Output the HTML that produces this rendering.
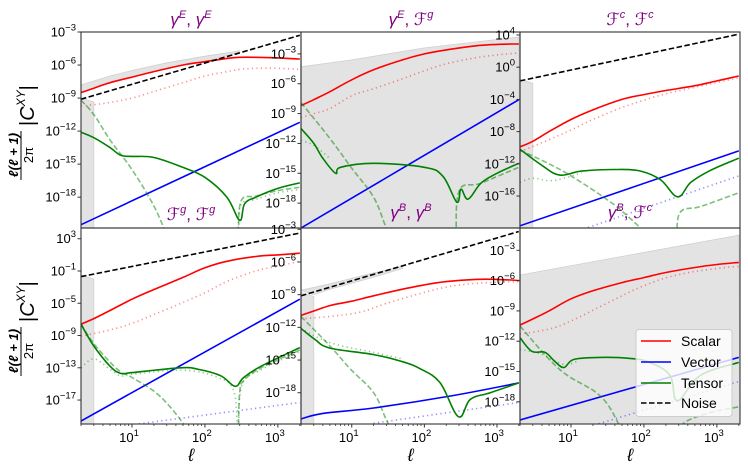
<!DOCTYPE html>
<html><head><meta charset="utf-8">
<style>
html,body{margin:0;padding:0;background:#fff;}
svg{display:block;font-family:"Liberation Sans","DejaVu Sans",sans-serif;}
</style></head>
<body>
<svg id="fig" width="748" height="476" viewBox="0 0 748 476" xmlns="http://www.w3.org/2000/svg">
  <g id="fills"></g>
  <g id="lines"></g>
  <g id="frames"></g>
  <g id="labels"></g>
  <g id="titles" fill="#800080" font-size="17">
    <text x="191" y="25" text-anchor="middle"><tspan font-style="italic">γ</tspan><tspan dy="-7" font-size="11" font-style="italic">E</tspan><tspan dy="7">, </tspan><tspan font-style="italic">γ</tspan><tspan dy="-7" font-size="11" font-style="italic">E</tspan></text>
    <text x="411" y="25" text-anchor="middle"><tspan font-style="italic">γ</tspan><tspan dy="-7" font-size="11" font-style="italic">E</tspan><tspan dy="7">, ℱ</tspan><tspan dy="-7" font-size="11" font-style="italic">g</tspan></text>
    <text x="630" y="25" text-anchor="middle">ℱ<tspan dy="-7" font-size="11" font-style="italic">c</tspan><tspan dy="7">, ℱ</tspan><tspan dy="-7" font-size="11" font-style="italic">c</tspan></text>
    <text x="191" y="220" text-anchor="middle">ℱ<tspan dy="-7" font-size="11" font-style="italic">g</tspan><tspan dy="7">, ℱ</tspan><tspan dy="-7" font-size="11" font-style="italic">g</tspan></text>
    <text x="411" y="218" text-anchor="middle"><tspan font-style="italic">γ</tspan><tspan dy="-7" font-size="11" font-style="italic">B</tspan><tspan dy="7">, </tspan><tspan font-style="italic">γ</tspan><tspan dy="-7" font-size="11" font-style="italic">B</tspan></text>
    <text x="630" y="218" text-anchor="middle"><tspan font-style="italic">γ</tspan><tspan dy="-7" font-size="11" font-style="italic">B</tspan><tspan dy="7">, ℱ</tspan><tspan dy="-7" font-size="11" font-style="italic">c</tspan></text>
  </g>
  <g transform="translate(21,130) rotate(-90)" fill="#000">
    <text x="-25" y="-3" font-size="13" font-style="italic" font-weight="bold" text-anchor="middle">ℓ(ℓ + 1)</text>
    <line x1="-50" y1="0" x2="-1" y2="0" stroke="#000" stroke-width="1"/>
    <text x="-25" y="12" font-size="13" text-anchor="middle">2π</text>
    <text x="4" y="13" font-size="20">|<tspan font-style="italic">C</tspan><tspan dy="-9" font-size="12" font-style="italic">XY</tspan><tspan dy="9">|</tspan></text>
  </g>
  <g transform="translate(21,326) rotate(-90)" fill="#000">
    <text x="-25" y="-3" font-size="13" font-style="italic" font-weight="bold" text-anchor="middle">ℓ(ℓ + 1)</text>
    <line x1="-50" y1="0" x2="-1" y2="0" stroke="#000" stroke-width="1"/>
    <text x="-25" y="12" font-size="13" text-anchor="middle">2π</text>
    <text x="4" y="13" font-size="20">|<tspan font-style="italic">C</tspan><tspan dy="-9" font-size="12" font-style="italic">XY</tspan><tspan dy="9">|</tspan></text>
  </g>
  <g>
    <rect x="636" y="329.5" width="96" height="87" rx="3" fill="#fff" fill-opacity="0.8" stroke="#ccc"/>
    <line x1="641" y1="341" x2="671" y2="341" stroke="#ff0000" stroke-width="1.5"/>
    <text x="681" y="346" font-size="14">Scalar</text>
    <line x1="641" y1="362" x2="671" y2="362" stroke="#0000ff" stroke-width="1.5"/>
    <text x="681" y="367" font-size="14">Vector</text>
    <line x1="641" y1="383" x2="671" y2="383" stroke="#008000" stroke-width="1.5"/>
    <text x="681" y="388" font-size="14">Tensor</text>
    <line x1="641" y1="403" x2="671" y2="403" stroke="#000" stroke-width="1.5" stroke-dasharray="5.5 2.5"/>
    <text x="681" y="408" font-size="14">Noise</text>
  </g>
</svg>
<script>
// ---- data: [ell, log10 value] pairs ----
const p1Scalar=[[2,-8.5],[3,-8.1],[5,-7.6],[10,-7.1],[20,-6.6],[50,-6.0],[100,-5.7],[200,-5.4],[300,-5.3],[500,-5.3],[1000,-5.35],[2000,-5.45]];
const p1ScalarDot=[[2,-9.7],[3,-9.6],[5,-9.4],[10,-9.0],[20,-8.4],[50,-7.6],[100,-7.0],[200,-6.6],[300,-6.4],[500,-6.3],[1000,-6.3],[2000,-6.4]];
const p1Vector=[[2,-20.5],[2000,-11.2]];
const p1Tensor=[[2,-12.1],[3,-12.6],[5,-13.5],[7,-14.2],[10,-14.3],[20,-14.4],[50,-15.3],[100,-16.2],[200,-18.0],[300,-20.1],[350,-18.6],[500,-18.0],[1000,-17.2],[2000,-16.7]];
const p1TensorDash=[[2,-9.2],[3,-10.5],[5,-12.8],[10,-15.5],[20,-18.8],[30,-21.5]];
const p1TensorDash2=[[290,-22],[310,-18.4],[500,-17.9],[1000,-17.4],[2000,-17.1]];
const p1TensorDot=[[290,-22],[305,-18.8],[500,-18.2],[1000,-17.6],[2000,-17.3]];
const p1Noise=[[2,-9.1],[2000,-3.3]];
const p1Band=[[2,-7.8],[5,-7.0],[10,-6.5],[30,-5.8],[100,-5.2],[250,-4.8],[300,-4.7],[300,-4.9],[250,-5.0],[100,-5.7],[30,-6.3],[10,-7.1],[5,-7.6],[2,-8.5]];

const p2Scalar=[[2,-8.2],[3,-7.6],[5,-6.8],[10,-5.6],[20,-4.6],[50,-3.6],[100,-3.0],[200,-2.6],[500,-2.2],[1000,-2.05],[2000,-2.0]];
const p2ScalarDot=[[2,-9.4],[3,-9.0],[5,-8.5],[10,-7.2],[20,-6.5],[50,-5.5],[100,-4.7],[200,-4.0],[500,-3.4],[1000,-3.1],[2000,-2.9]];
const p2Vector=[[2,-20.5],[2000,-7.6]];
const p2Tensor=[[2,-10.5],[3,-12.0],[4,-13.5],[6,-15.0],[7,-14.4],[20,-14.0],[100,-14.4],[180,-15.3],[280,-17.9],[320,-16.6],[400,-17.6],[600,-16.0],[1000,-15.0],[2000,-14.0]];
const p2TensorDash=[[2,-7.9],[5,-11.5],[10,-14.5],[20,-17.4],[30,-20.5],[40,-22]];
const p2TensorDash2=[[275,-22],[300,-16.8],[600,-16.0],[2000,-14.4]];
const p2TensorDot=[[2,-11.7],[3,-12.2],[5,-13.5]];
const p2Fill=[[2,-4.3],[10,-3.6],[100,-2.4],[2000,-1.3]];

const p3Noise=[[2,-1.7],[2000,4.1]];
const p3Scalar=[[2,-9.9],[3,-9.2],[5,-8.0],[10,-6.5],[20,-5.3],[50,-4.0],[100,-3.4],[200,-2.9],[500,-2.3],[1000,-1.7],[2000,-1.1]];
const p3ScalarDot=[[2,-10.5],[5,-9.0],[10,-7.8],[20,-6.5],[50,-5.0],[100,-4.1],[200,-3.3],[500,-2.5],[1000,-1.9],[2000,-1.3]];
const p3Vector=[[2,-19.7],[2000,-10.4]];
const p3VectorDot=[[2,-22.8],[2000,-13.5]];
const p3Tensor=[[2,-10.2],[4,-12.2],[7,-13.4],[14,-12.9],[40,-12.7],[90,-12.9],[170,-14.0],[290,-16.1],[440,-14.3],[820,-12.8],[2000,-11.3]];
const p3TensorDot=[[2,-14.3],[3,-13.8],[5,-14.1],[8,-13.8],[14,-13.1]];
const p3TensorDash=[[2,-10.3],[5,-12.0],[10,-13.5],[32,-16.5],[60,-18.5],[100,-20.5],[120,-22]];
const p3TensorDash2=[[285,-22],[310,-18.1],[600,-17.3],[2000,-15.6]];

const p4Noise=[[2,-1.7],[2000,3.7]];
const p4Scalar=[[2,-7.6],[3,-6.9],[5,-5.9],[10,-4.5],[20,-3.3],[50,-1.8],[100,-0.6],[200,0.2],[500,0.8],[1000,1.0],[2000,1.2]];
const p4ScalarDot=[[2,-9.1],[5,-8.3],[10,-7.5],[20,-6.4],[50,-4.9],[100,-3.7],[200,-2.3],[500,-1.0],[1000,-0.4],[2000,0.2]];
const p4Vector=[[2,-19.6],[2000,-4.5]];
const p4VectorDot=[[2,-20.9],[2000,-17.3]];
const p4Tensor=[[2,-7.6],[3,-10.3],[5,-12.8],[7,-13.7],[10,-13.6],[46,-13.0],[82,-13.2],[165,-14.0],[260,-15.3],[340,-14.2],[590,-12.8],[2000,-10.5]];
const p4TensorDot=[[2,-13.0],[3,-11.9],[5,-13.2],[7,-14.0],[10,-13.8],[50,-13.3],[150,-14.2],[250,-16],[280,-22]];
const p4TensorDot2=[[290,-22],[320,-15.2],[600,-13.2],[2000,-11.0]];
const p4TensorDash=[[2,-7.6],[3,-10.0],[5,-12.3],[7,-13.5],[10,-14.2],[24,-16.5],[54,-20.3],[60,-22]];
const p4TensorDash2=[[285,-22],[300,-16.0],[350,-14.5],[590,-13.0],[2000,-10.8]];

const p5Noise=[[2,-9.1],[2000,-3.2]];
const p5Band=[[2,-8.6],[5,-8.0],[20,-7.0],[50,-6.4],[50,-6.6],[20,-7.4],[5,-8.5],[3,-9.0]];
const p5Scalar=[[2,-10.9],[3,-10.5],[5,-10.0],[10,-9.6],[20,-9.1],[50,-8.5],[100,-8.1],[200,-7.8],[500,-7.6],[1000,-7.6],[2000,-7.7]];
const p5ScalarDot=[[2,-11.2],[5,-11.0],[13,-10.6],[30,-9.8],[87,-8.9],[200,-8.3],[430,-8.0],[1000,-7.85],[2000,-7.8]];
const p5Vector=[[2,-20.4],[4,-19.9],[20,-19.4],[230,-18.3],[2000,-17.1]];
const p5VectorDot=[[20,-20.8],[2000,-18.9]];
const p5Tensor=[[2,-12.1],[3.1,-13.1],[5,-13.9],[20,-14.5],[47,-15.1],[88,-15.8],[165,-17.1],[295,-20.2],[430,-18.6],[810,-18.0],[2000,-17.1]];
const p5TensorDash=[[2,-11.0],[5,-13.7],[9.5,-15.8],[20,-18.0],[30,-20.5],[40,-22]];
const p5TensorDot=[[2,-12.1],[5,-13.4],[20,-14.3],[50,-14.9]];

const p6Fill=[[2,-5.44],[2000,-1.5]];
const p6Scalar=[[2,-10.4],[3,-9.8],[5,-9.0],[10,-7.8],[20,-7.0],[50,-6.2],[100,-5.7],[200,-5.2],[500,-4.7],[1000,-4.4],[2000,-4.2]];
const p6ScalarDot=[[2,-11.3],[5,-10.8],[10,-10.0],[30,-8.3],[100,-6.5],[300,-5.4],[1000,-4.8],[2000,-4.6]];
const p6Vector=[[2,-19.8],[2000,-13.6]];
const p6VectorDot=[[21,-20.3],[2000,-16.0]];
const p6Tensor=[[2,-11.65],[2.9,-13.0],[4.4,-13.1],[6,-14.0],[8,-14.6],[11,-13.8],[25,-13.6],[64,-13.7],[120,-14.1],[228,-15.4],[288,-17.9],[590,-15.4],[2000,-14.1]];
const p6TensorDash=[[2,-10.5],[7,-14.8],[25,-17.4],[46,-20.3],[60,-22]];
const p6TensorDash2=[[320,-22],[330,-20.3],[700,-19.2],[2000,-18.5]];
const p6TensorDot=[[2,-12.8],[4,-13.3],[8,-14.3],[12,-14.0]];

const p1Ticks=[-3,-6,-9,-12,-15,-18];
const p2Ticks=[-3,-6,-9,-12,-15,-18];
const p3Ticks=[4,0,-4,-8,-12,-16];
const p4Ticks=[3,-1,-5,-9,-13,-17];
const p5Ticks=[-3,-6,-9,-12,-15,-18];
const p6Ticks=[-3,-6,-9,-12,-15,-18];
const xTickExps=[1,2,3];

const NS="http://www.w3.org/2000/svg";
const L0=Math.log10(2), L1=Math.log10(2075);
const panels=[
 {id:1,x0:81,x1:301,y0:32,y1:228,top:-3,bot:-20.8,ticks:p1Ticks},
 {id:2,x0:301,x1:520,y0:32,y1:228,top:-0.8,bot:-20.5,ticks:p2Ticks},
 {id:3,x0:520,x1:740,y0:32,y1:228,top:4.37,bot:-19.97,ticks:p3Ticks},
 {id:4,x0:81,x1:301,y0:228,y1:424,top:4.33,bot:-19.97,ticks:p4Ticks},
 {id:5,x0:301,x1:520,y0:228,y1:424,top:-2.88,bot:-20.87,ticks:p5Ticks},
 {id:6,x0:520,x1:740,y0:228,y1:424,top:-0.79,bot:-20.2,ticks:p6Ticks}
];
function sx(p,l){return p.x0+(Math.log10(l)-L0)/(L1-L0)*(p.x1-p.x0);}
function sy(p,v){return p.y0+(p.top-v)/(p.top-p.bot)*(p.y1-p.y0);}
function el(tag,attrs,parent){const e=document.createElementNS(NS,tag);for(const k in attrs)e.setAttribute(k,attrs[k]);parent.appendChild(e);return e;}
const svg=document.getElementById('fig');
const defs=el('defs',{},svg);
panels.forEach(p=>{const c=el('clipPath',{id:'clip'+p.id},defs);el('rect',{x:p.x0,y:p.y0,width:p.x1-p.x0,height:p.y1-p.y0},c);});
const fills=document.getElementById('fills'), lines=document.getElementById('lines'), frames=document.getElementById('frames'), labels=document.getElementById('labels');
function smoothPath(p,d){
 const P=d.map(q=>[sx(p,q[0]),sy(p,q[1])]);
 let s='M'+P[0][0].toFixed(1)+','+P[0][1].toFixed(1);
 for(let i=0;i<P.length-1;i++){
  const p0=P[Math.max(0,i-1)],p1=P[i],p2=P[i+1],p3=P[Math.min(P.length-1,i+2)];
  const t=0.18;
  const c1=[p1[0]+(p2[0]-p0[0])*t,p1[1]+(p2[1]-p0[1])*t];
  const c2=[p2[0]-(p3[0]-p1[0])*t,p2[1]-(p3[1]-p1[1])*t];
  s+=' C'+c1[0].toFixed(1)+','+c1[1].toFixed(1)+' '+c2[0].toFixed(1)+','+c2[1].toFixed(1)+' '+p2[0].toFixed(1)+','+p2[1].toFixed(1);
 }
 return s;
}
const styles={
 scalar:{stroke:'#ff0000',w:1.6},
 scalarDot:{stroke:'#ff0000',w:1.6,op:0.45,dash:'1.2 3.3'},
 vector:{stroke:'#0000ff',w:1.6},
 vectorDot:{stroke:'#0000ff',w:1.6,op:0.45,dash:'1.2 3.3'},
 tensor:{stroke:'#008000',w:1.6},
 tensorDot:{stroke:'#008000',w:1.6,op:0.45,dash:'1.2 3.3'},
 tensorDash:{stroke:'#008000',w:1.6,op:0.5,dash:'5.5 2.5'},
 noise:{stroke:'#000',w:1.6,dash:'5.5 2.5'}
};
function line(p,d,kind,name){
 const s=styles[kind];
 const e=document.createElementNS(NS,'path');
 
 
 e.setAttribute('d',smoothPath(p,d));e.setAttribute('fill','none');e.setAttribute('stroke',s.stroke);
 e.setAttribute('stroke-width',s.w);e.setAttribute('clip-path','url(#clip'+p.id+')');
 if(s.op)e.setAttribute('stroke-opacity',s.op);
 if(s.dash){e.setAttribute('stroke-dasharray',s.dash);}
 e.setAttribute('stroke-linejoin','round');
 lines.appendChild(e);
}
function poly(p,d,name){
 const e=document.createElementNS(NS,'polygon');
 
 
 e.setAttribute('points',d.map(q=>q[0].toFixed(1)+','+q[1].toFixed(1)).join(' '));
 e.setAttribute('fill','#e3e3e3');e.setAttribute('stroke','#d0d0d0');e.setAttribute('stroke-width','0.8');
 e.setAttribute('clip-path','url(#clip'+p.id+')');
 fills.appendChild(e);
}
function strip(p,topV,name){
 const x2=sx(p,3);
 poly(p,[[p.x0,sy(p,topV)],[x2,sy(p,topV)+4],[x2,p.y1],[p.x0,p.y1]],name);
}
function band(p,d,name){poly(p,d.map(q=>[sx(p,q[0]),sy(p,q[1])]),name);}
function fillBelow(p,d,name){const a=d.map(q=>[sx(p,q[0]),sy(p,q[1])]);a.push([p.x1,p.y1]);a.push([p.x0,p.y1]);poly(p,a,name);}
const P=panels;
band(P[0],p1Band,'shade-band-p1');strip(P[0],-9.0,'shade-strip-p1');
fillBelow(P[1],p2Fill,'shade-fill-p2');
strip(P[2],-1.5,'shade-strip-p3');
strip(P[3],-1.5,'shade-strip-p4');
band(P[4],p5Band,'shade-band-p5');strip(P[4],-8.8,'shade-strip-p5');
fillBelow(P[5],p6Fill,'shade-fill-p6');

line(P[0],p1ScalarDot,'scalarDot','scalar-dotted-p1');line(P[0],p1Scalar,'scalar','scalar-p1');
line(P[0],p1Vector,'vector','vector-p1');
line(P[0],p1TensorDash,'tensorDash','tensor-dashed-p1');line(P[0],p1TensorDash2,'tensorDash','tensor-dashed-right-p1');
line(P[0],p1TensorDot,'tensorDot','tensor-dotted-p1');line(P[0],p1Tensor,'tensor','tensor-p1');
line(P[0],p1Noise,'noise','noise-p1');

line(P[1],p2ScalarDot,'scalarDot','scalar-dotted-p2');line(P[1],p2Scalar,'scalar','scalar-p2');
line(P[1],p2Vector,'vector','vector-p2');
line(P[1],p2TensorDash,'tensorDash','tensor-dashed-p2');line(P[1],p2TensorDash2,'tensorDash','tensor-dashed-right-p2');
line(P[1],p2TensorDot,'tensorDot','tensor-dotted-p2');line(P[1],p2Tensor,'tensor','tensor-p2');

line(P[2],p3ScalarDot,'scalarDot','scalar-dotted-p3');line(P[2],p3Scalar,'scalar','scalar-p3');
line(P[2],p3VectorDot,'vectorDot','vector-dotted-p3');line(P[2],p3Vector,'vector','vector-p3');
line(P[2],p3TensorDash,'tensorDash','tensor-dashed-p3');line(P[2],p3TensorDash2,'tensorDash','tensor-dashed-right-p3');
line(P[2],p3TensorDot,'tensorDot','tensor-dotted-p3');line(P[2],p3Tensor,'tensor','tensor-p3');
line(P[2],p3Noise,'noise','noise-p3');

line(P[3],p4ScalarDot,'scalarDot','scalar-dotted-p4');line(P[3],p4Scalar,'scalar','scalar-p4');
line(P[3],p4VectorDot,'vectorDot','vector-dotted-p4');line(P[3],p4Vector,'vector','vector-p4');
line(P[3],p4TensorDash,'tensorDash','tensor-dashed-p4');line(P[3],p4TensorDash2,'tensorDash','tensor-dashed-right-p4');
line(P[3],p4TensorDot,'tensorDot','tensor-dotted-p4');line(P[3],p4TensorDot2,'tensorDot','tensor-dotted-right-p4');
line(P[3],p4Tensor,'tensor','tensor-p4');
line(P[3],p4Noise,'noise','noise-p4');

line(P[4],p5ScalarDot,'scalarDot','scalar-dotted-p5');line(P[4],p5Scalar,'scalar','scalar-p5');
line(P[4],p5VectorDot,'vectorDot','vector-dotted-p5');line(P[4],p5Vector,'vector','vector-p5');
line(P[4],p5TensorDash,'tensorDash','tensor-dashed-p5');
line(P[4],p5TensorDot,'tensorDot','tensor-dotted-p5');line(P[4],p5Tensor,'tensor','tensor-p5');
line(P[4],p5Noise,'noise','noise-p5');

line(P[5],p6ScalarDot,'scalarDot','scalar-dotted-p6');line(P[5],p6Scalar,'scalar','scalar-p6');
line(P[5],p6VectorDot,'vectorDot','vector-dotted-p6');line(P[5],p6Vector,'vector','vector-p6');
line(P[5],p6TensorDash,'tensorDash','tensor-dashed-p6');line(P[5],p6TensorDash2,'tensorDash','tensor-dashed-right-p6');
line(P[5],p6TensorDot,'tensorDot','tensor-dotted-p6');line(P[5],p6Tensor,'tensor','tensor-p6');

panels.forEach(p=>{
 const r=document.createElementNS(NS,'rect');
 
 
 r.setAttribute('x',p.x0);r.setAttribute('y',p.y0);r.setAttribute('width',p.x1-p.x0);r.setAttribute('height',p.y1-p.y0);
 r.setAttribute('fill','none');r.setAttribute('stroke','#333');r.setAttribute('stroke-width','1.1');
 frames.appendChild(r);
 p.ticks.forEach(t=>{
  const y=sy(p,t);
  el('line',{x1:p.x0-3.5,x2:p.x0,y1:y,y2:y,stroke:'#333','stroke-width':1},frames);
  const tx=document.createElementNS(NS,'text');
  
  
  tx.setAttribute('x',p.x0-5);tx.setAttribute('y',y+4.5);tx.setAttribute('text-anchor','end');tx.setAttribute('font-size','13');tx.setAttribute('fill','#000');
  tx.textContent='10';
  const ts=document.createElementNS(NS,'tspan');ts.setAttribute('dy','-6');ts.setAttribute('font-size','9.5');
  ts.textContent=(t<0?'\u2212':'')+Math.abs(t);tx.appendChild(ts);
  labels.appendChild(tx);
 });
 if(p.y1===424){
  for(let k=0;k<=3;k++){for(let m=1;m<=9;m++){const l=m*Math.pow(10,k);if(l<2||l>2075)continue;
   const x=sx(p,l);const len=(m===1)?3.5:2;
   el('line',{x1:x,x2:x,y1:p.y1,y2:p.y1+len,stroke:'#333','stroke-width':m===1?1:0.8},frames);}}
  xTickExps.forEach(e=>{
   const x=sx(p,Math.pow(10,e));
   const tx=document.createElementNS(NS,'text');
   
   
   tx.setAttribute('x',x-3);tx.setAttribute('y',442);tx.setAttribute('text-anchor','middle');tx.setAttribute('font-size','13');
   tx.textContent='10';
   const ts=document.createElementNS(NS,'tspan');ts.setAttribute('dy','-6');ts.setAttribute('font-size','9.5');ts.textContent=String(e);tx.appendChild(ts);
   labels.appendChild(tx);
  });
  const xl=document.createElementNS(NS,'text');
  
  
  xl.setAttribute('x',(p.x0+p.x1)/2);xl.setAttribute('y',461);xl.setAttribute('text-anchor','middle');xl.setAttribute('font-size','18');xl.setAttribute('font-style','italic');
  xl.textContent='ℓ';labels.appendChild(xl);
 }
});
</script>
</body></html>
